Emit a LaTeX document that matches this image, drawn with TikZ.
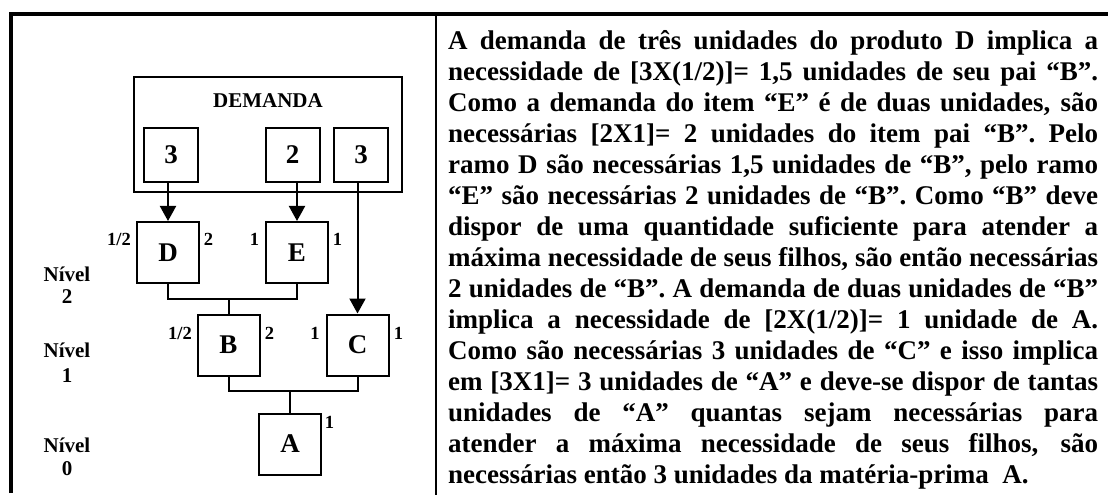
\documentclass[tikz,border=0pt]{standalone}
\usepackage{fontspec}
\setmainfont{Liberation Serif}
\usetikzlibrary{arrows.meta}
\begin{document}
\begin{tikzpicture}[x=1pt,y=-1pt,
 item/.style={draw, line width=2pt, inner sep=0pt, minimum width=62pt, minimum height=61pt, font=\bfseries\fontsize{27}{30}\selectfont},
 dbox/.style={draw, line width=2pt, inner sep=0pt, minimum width=54pt, minimum height=54pt, font=\bfseries\fontsize{27}{30}\selectfont},
 qty/.style={inner sep=0pt, anchor=base, font=\bfseries\fontsize{18.5}{20}\selectfont},
 lvl/.style={inner sep=0pt, anchor=base, font=\bfseries\fontsize{21}{22}\selectfont},
 conn/.style={line width=2pt},
 arr/.style={line width=2pt, -{Triangle[width=16pt,length=15pt]}},
 frame/.style={line width=3.4pt},
 divider/.style={line width=2pt}
]
\useasboundingbox (0,0) rectangle (1108,497);
% frame
\draw[frame] (11,493) -- (11,14) -- (1112,14);
\draw[divider] (436,14) -- (436,495);
% demand box
\node[draw, line width=2pt, inner sep=0pt, minimum width=268pt, minimum height=115pt] (dem) at (268,134.5) {};
\node[lvl] (demlbl) at (268,108) {DEMANDA};
\node[dbox] (da) at (171,155) {3};
\node[dbox] (db) at (292.5,155) {2};
\node[dbox] (dc) at (361,155) {3};
% items
\node[item] (D) at (168,252.5) {D};
\node[item] (E) at (297,252.5) {E};
\node[item] (B) at (228.5,345) {B};
\node[item] (C) at (357.5,345) {C};
\node[item] (A) at (290,444) {A};
% connectors
\draw[arr] (D.north |- da.south) -- (D.north);
\draw[arr] (E.north |- db.south) -- (E.north);
\draw[arr] (C.north |- dc.south) -- (C.north);
\coordinate (jDE) at (228.5,299);
\draw[conn] (D.south) -- (D.south |- jDE) -- (E.south |- jDE) -- (E.south);
\draw[conn] (jDE) -- (B.north);
\coordinate (jBC) at (290,391);
\draw[conn] (B.south) -- (B.south |- jBC) -- (C.south |- jBC) -- (C.south);
\draw[conn] (jBC) -- (A.north);
% quantities
\node[qty] (qD1) at (119,245) {1/2};
\node[qty] (qD2) at (208.5,245) {2};
\node[qty] (qE1) at (254.5,245) {1};
\node[qty] (qE2) at (337.5,245) {1};
\node[qty] (qB1) at (180,339) {1/2};
\node[qty] (qB2) at (269.5,339) {2};
\node[qty] (qC1) at (315,339) {1};
\node[qty] (qC2) at (398.5,339) {1};
\node[qty] (qA) at (329.5,428) {1};
% levels
\node[lvl] (n2a) at (67,281) {Nível};
\node[lvl] (n2b) at (67,303) {2};
\node[lvl] (n1a) at (67,357) {Nível};
\node[lvl] (n1b) at (67,382) {1};
\node[lvl] (n0a) at (67,452) {Nível};
\node[lvl] (n0b) at (67,475) {0};
% text
\node[anchor=base west, inner sep=0pt, text width=650pt, align=justify,
      font=\bfseries\fontsize{27}{31}\selectfont] (txt) at (448,50)
{\tolerance=10000\hyphenpenalty=10000
A demanda de três unidades do produto D implica a\linebreak
necessidade de [3X(1/2)]= 1,5 unidades de seu pai “B”.\linebreak
Como a demanda do item “E” é de duas unidades, são\linebreak
necessárias [2X1]= 2 unidades do item pai “B”. Pelo\linebreak
ramo D são necessárias 1,5 unidades de “B”, pelo ramo\linebreak
“E” são necessárias 2 unidades de “B”. Como “B” deve\linebreak
dispor de uma quantidade suficiente para atender a\linebreak
máxima necessidade de seus filhos, são então necessárias\linebreak
2 unidades de “B”. A demanda de duas unidades de “B”\linebreak
implica a necessidade de [2X(1/2)]= 1 unidade de A.\linebreak
Como são necessárias 3 unidades de “C” e isso implica\linebreak
em [3X1]= 3 unidades de “A” e deve-se dispor de tantas\linebreak
unidades de “A” quantas sejam necessárias para\linebreak
atender a máxima necessidade de seus filhos, são\linebreak
necessárias então 3 unidades da matéria-prima~ A.};
\end{tikzpicture}
\end{document}
